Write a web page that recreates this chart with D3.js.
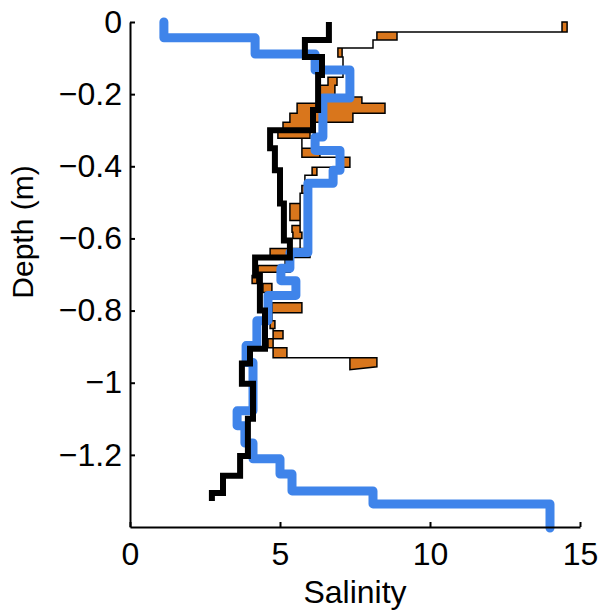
<!DOCTYPE html>
<html>
<head>
<meta charset="utf-8">
<script src="https://cdn.jsdelivr.net/npm/d3@7"></script>
<style>
  body { margin: 0; background: #fff; }
  text { font-family: "Liberation Sans", Arial, Helvetica, sans-serif; fill: #000; }
</style>
</head>
<body>
<div id="container"></div>
<script>
/* CONSTANTS AND GLOBALS */
const width = 599,
  height = 612,
  margin = { top: 22, bottom: 85, left: 130, right: 19 };

/* DATA */
// blue profile: depth boundaries (m) and salinity in each step
const blueDepth = [0, -0.044, -0.089, -0.133, -0.211, -0.319, -0.356, -0.411, -0.447, -0.639, -0.683, -0.717,
  -0.758, -0.828, -0.897, -0.944, -1.078, -1.119, -1.167, -1.211, -1.253, -1.3, -1.336, -1.403];
const blueSal = [1.13, 4.17, 6.17, 7.33, 6.43, 6.17, 7.0, 6.77, 5.93, 5.33, 5.03, 5.53,
  4.6, 4.23, 3.87, 4.1, 3.57, 3.83, 4.1, 5.0, 5.4, 8.1, 14.0];

// thick black profile
const blackDepth = [0, -0.05, -0.097, -0.147, -0.244, -0.3, -0.35, -0.411, -0.503, -0.606, -0.653,
  -0.703, -0.8, -0.906, -0.947, -1.003, -1.1, -1.203, -1.258, -1.306, -1.328];
const blackSal = [6.63, 5.83, 6.4, 6.27, 6.1, 4.67, 4.83, 5.0, 5.13, 5.33,
  4.17, 4.33, 4.5, 4.0, 3.73, 4.1, 3.93, 3.67, 3.1, 2.73];

// orange band: top of each step, low and high salinity edge
const bandTop = [0, -0.028, -0.05, -0.072, -0.097, -0.153, -0.175, -0.208, -0.225, -0.253, -0.278, -0.3, -0.322,
  -0.35, -0.375, -0.403, -0.425, -0.453, -0.475, -0.503, -0.55, -0.564, -0.583, -0.6, -0.628, -0.653,
  -0.675, -0.694, -0.703, -0.725, -0.75, -0.778, -0.806, -0.828, -0.85, -0.856, -0.878, -0.903, -0.931];
const bandLo = [14.4, 8.23, 8.1, 6.93, 7.1, 6.6, 6.33, 6.43, 5.57, 5.33, 5.1, 4.93, 5.73,
  5.73, 7.1, 6.07, 5.83, 5.73, 5.67, 5.33, 5.67, 5.4, 5.43, 5.67, 4.67, 5.17,
  4.27, 4.23, 4.07, 4.43, 4.6, 4.73, 4.73, 4.67, 4.77, 4.77, 4.6, 4.77, 7.33];
const bandHi = [14.57, 8.9, 8.1, 7.07, 7.1, 6.9, 6.83, 7.73, 8.5, 7.43, 6.1, 6.0, 5.73,
  6.33, 7.33, 6.23, 5.83, 5.83, 5.67, 5.67, 5.67, 5.67, 5.73, 5.67, 6.0, 5.17,
  5.33, 4.23, 4.23, 4.73, 4.6, 5.73, 4.73, 4.83, 4.77, 5.1, 4.77, 5.23, 8.23];
const bandEndLo = -0.964, bandEndHi = -0.956;

const xTicks = [0, 5, 10, 15];
const yTicks = [0, -0.2, -0.4, -0.6, -0.8, -1, -1.2];

/* SCALES */
const xScale = d3.scaleLinear()
  .domain([0, 15])
  .range([margin.left, width - margin.right]);

const yScale = d3.scaleLinear()
  .domain([-1.4, 0])
  .range([height - margin.bottom, margin.top]);

/* HTML ELEMENTS */
const svg = d3.select("#container")
  .append("svg")
  .attr("width", width)
  .attr("height", height);

const line = d3.line()
  .x(d => xScale(d[0]))
  .y(d => yScale(d[1]));

// stairs: salinity constant over each depth interval
function stairs(depth, sal) {
  const pts = [];
  sal.forEach((s, i) => {
    pts.push([s, depth[i]]);
    pts.push([s, depth[i + 1]]);
  });
  return pts;
}

// orange band = fill between low and high stairs
const bandPts = [];
bandTop.forEach((t, i) => {
  const b = i < bandTop.length - 1 ? bandTop[i + 1] : bandEndLo;
  bandPts.push([bandLo[i], t], [bandLo[i], b]);
});
for (let i = bandTop.length - 1; i >= 0; i--) {
  const b = i < bandTop.length - 1 ? bandTop[i + 1] : bandEndHi;
  bandPts.push([bandHi[i], b], [bandHi[i], bandTop[i]]);
}

svg.append("path")
  .attr("d", line(bandPts) + "Z")
  .attr("fill", "#d9761c")
  .attr("stroke", "#000")
  .attr("stroke-width", 1.5)
  .attr("stroke-linejoin", "miter");

svg.append("path")
  .attr("d", line(stairs(blueDepth, blueSal)))
  .attr("fill", "none")
  .attr("stroke", "#3f84ea")
  .attr("stroke-width", 9)
  .attr("stroke-linejoin", "round")
  .attr("stroke-linecap", "round");

svg.append("path")
  .attr("d", line(stairs(blackDepth, blackSal)))
  .attr("fill", "none")
  .attr("stroke", "#000")
  .attr("stroke-width", 6)
  .attr("stroke-linejoin", "miter");

// xaxis
const xAxis = d3.axisBottom(xScale)
  .tickValues(xTicks)
  .tickSizeInner(-5)
  .tickSizeOuter(0)
  .tickPadding(15);
svg.append("g")
  .attr("transform", `translate(0, ${height - margin.bottom})`)
  .call(xAxis);

// yaxis
const yAxis = d3.axisLeft(yScale)
  .tickValues(yTicks)
  .tickFormat(d3.format("~g"))
  .tickSizeInner(-5)
  .tickSizeOuter(0)
  .tickPadding(8);
svg.append("g")
  .attr("transform", `translate(${margin.left}, 0)`)
  .call(yAxis);

svg.selectAll(".domain, .tick line")
  .attr("stroke", "#000")
  .attr("stroke-width", 2);
svg.selectAll(".tick text")
  .attr("font-size", 32)
  .attr("font-family", "Liberation Sans, Arial, sans-serif");

// axis labels
svg.append("text")
  .attr("x", xScale(7.5))
  .attr("y", 603)
  .attr("text-anchor", "middle")
  .attr("font-size", 32)
  .text("Salinity");

svg.append("text")
  .attr("transform", `translate(33, 232) rotate(-90)`)
  .attr("text-anchor", "middle")
  .attr("font-size", 30)
  .text("Depth (m)");
</script>
</body>
</html>
